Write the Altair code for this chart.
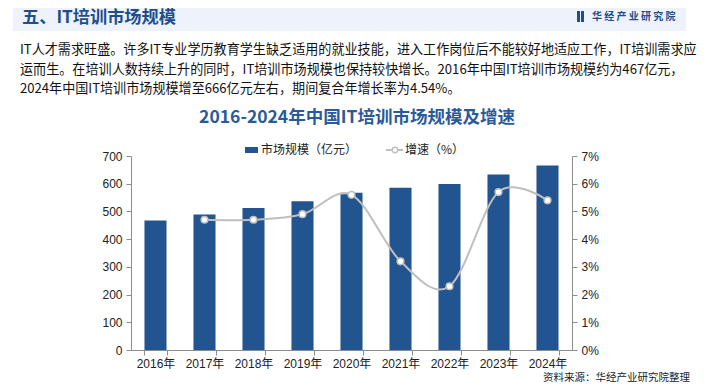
import altair as alt
import pandas as pd

years = ["2016年", "2017年", "2018年", "2019年", "2020年", "2021年", "2022年", "2023年", "2024年"]
market = [467, 489, 512, 537, 567, 585, 599, 633, 666]
growth = [None, 4.7, 4.7, 4.9, 5.6, 3.2, 2.3, 5.7, 5.4]

header_title = "五、IT培训市场规模"
logo_text = "华 经 产 业 研 究 院"
para_lines = [
    "IT人才需求旺盛。许多IT专业学历教育学生缺乏适用的就业技能，进入工作岗位后不能较好地适应工作，IT培训需求应",
    "运而生。在培训人数持续上升的同时，IT培训市场规模也保持较快增长。2016年中国IT培训市场规模约为467亿元，",
    "2024年中国IT培训市场规模增至666亿元左右，期间复合年增长率为4.54%。",
]
chart_title = "2016-2024年中国IT培训市场规模及增速"
legend_bar = "市场规模（亿元）"
legend_line = "增速（%）"
source_text = "资料来源：华经产业研究院整理"

df = pd.DataFrame({"year": years, "market": market, "growth": growth})

BLUE = "#22548f"
GRAY = "#bfbfbf"
AX = "#8c8c8c"
CJK = "Noto Sans CJK SC"
LAT = "Liberation Sans, Noto Sans CJK SC"

one = pd.DataFrame({"k": [0]})

x_enc = alt.X(
    "year:N",
    sort=years,
    scale=alt.Scale(paddingInner=0.55, paddingOuter=0.275),
    axis=alt.Axis(title=None, labelAngle=0, tickBand="extent", tickSize=5,
                  labelPadding=3, domainColor=AX, tickColor=AX,
                  labelFont=LAT, labelFontSize=12, labelColor="#222"),
)

bars = alt.Chart(df).mark_bar(color=BLUE).encode(
    x=x_enc,
    y=alt.Y("market:Q", scale=alt.Scale(domain=[0, 700]),
            axis=alt.Axis(title=None, values=list(range(0, 701, 100)), tickSize=5,
                          grid=False, domainColor=AX, tickColor=AX, labelPadding=4,
                          labelFont=LAT, labelFontSize=12, labelColor="#222")),
)

def gy():
    return alt.Y("growth:Q", scale=alt.Scale(domain=[0, 7]),
                 axis=alt.Axis(title=None, orient="right", values=[0, 1, 2, 3, 4, 5, 6, 7],
                               tickSize=5, grid=False, domainColor=AX, tickColor=AX,
                               labelPadding=4, labelExpr="datum.value + '%'",
                               labelFont=LAT, labelFontSize=12, labelColor="#222"))

line = alt.Chart(df).mark_line(interpolate="cardinal", color=GRAY, strokeWidth=2).encode(
    x=alt.X("year:N", sort=years), y=gy())
pts = alt.Chart(df).mark_point(filled=True, fill="white", stroke=GRAY, strokeWidth=1.5,
                               size=45, opacity=1).encode(
    x=alt.X("year:N", sort=years), y=gy())
right = alt.layer(line, pts)

main = alt.layer(bars, right).resolve_scale(y="independent")

def txt(text, x, y, size, color="#111", weight="normal", align="left", font=CJK, baseline="middle"):
    return alt.Chart(pd.DataFrame({"t": [text]})).mark_text(
        align=align, baseline=baseline, fontSize=size, fontWeight=weight, color=color, font=font
    ).encode(x=alt.value(x), y=alt.value(y), text="t:N")

OX, OY = 131, 156  # plot origin in page coordinates

header = alt.Chart(one).mark_rect(color="#eef3fb").encode(
    x=alt.value(13 - OX), x2=alt.value(686 - OX), y=alt.value(4 - OY), y2=alt.value(31 - OY))
icon1 = alt.Chart(one).mark_rect(color="#1f4e8c").encode(
    x=alt.value(577 - OX), x2=alt.value(580 - OX), y=alt.value(11 - OY), y2=alt.value(22 - OY))
icon2 = alt.Chart(one).mark_rect(color="#1f4e8c").encode(
    x=alt.value(581 - OX), x2=alt.value(584 - OX), y=alt.value(11 - OY), y2=alt.value(22 - OY))

layers = [
    header, icon1, icon2,
    txt(header_title, 22 - OX, 17.5 - OY, 17.2, color="#1f4e8c", weight="bold"),
    txt(logo_text, 592 - OX, 17 - OY, 10, color="#1f4e8c", weight="bold"),
    txt(para_lines[0], 20 - OX, 50 - OY, 13.1),
    txt(para_lines[1], 20 - OX, 70 - OY, 13.1),
    txt(para_lines[2], 20 - OX, 89 - OY, 13.1),
    txt(chart_title, 357 - OX, 118 - OY, 17.5, color="#2a5a9a", weight="bold", align="center"),
    alt.Chart(one).mark_rect(color=BLUE).encode(
        x=alt.value(245 - OX), x2=alt.value(258 - OX), y=alt.value(147 - OY), y2=alt.value(153 - OY)),
    txt(legend_bar, 261 - OX, 150 - OY, 12, color="#222"),
    alt.Chart(one).mark_rule(color=GRAY, strokeWidth=2).encode(
        x=alt.value(386 - OX), x2=alt.value(403 - OX), y=alt.value(150 - OY)),
    alt.Chart(one).mark_point(filled=True, fill="white", stroke=GRAY, strokeWidth=1.5,
                              size=30, opacity=1).encode(x=alt.value(395 - OX), y=alt.value(150 - OY)),
    txt(legend_line, 405 - OX, 150 - OY, 12, color="#222"),
    txt(source_text, 690 - OX, 383 - OY, 10.5, color="#222", align="right", baseline="bottom"),
]

chart = alt.layer(*layers, main).properties(
    width=441, height=194,
    autosize=alt.AutoSizeParams(type="none"),
    padding={"left": 123, "top": 148, "right": 125, "bottom": 34},
    background="white",
).configure_view(stroke=None)

chart.save("out.html", embed_options={"renderer": "svg", "actions": False})
